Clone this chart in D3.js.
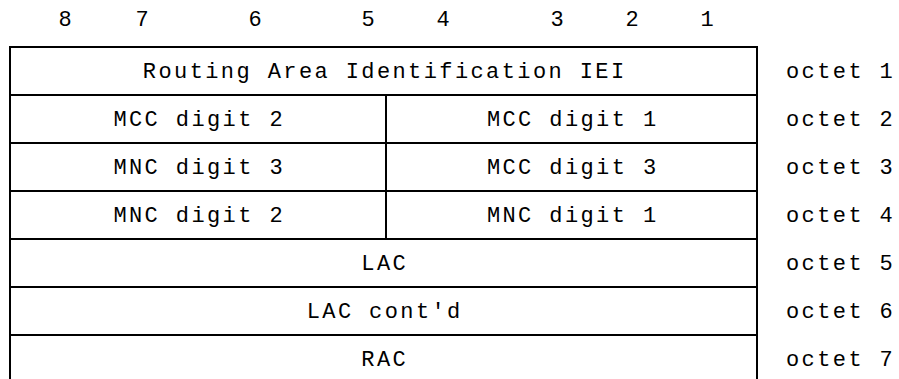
<!DOCTYPE html>
<html>
<head>
<meta charset="utf-8">
<script src="https://cdn.jsdelivr.net/npm/d3@7"></script>
<style>
  html, body { margin: 0; padding: 0; background: #fff; }
  svg { display: block; }
  text { font-family: "Liberation Mono", "Courier New", monospace; font-size: 22px; letter-spacing: 2.4px; fill: #000; }
</style>
</head>
<body>
<svg id="chart" width="899" height="379"></svg>
<script>
// ---- data ----
const bitLabels = ["8", "7", "6", "5", "4", "3", "2", "1"];
const octetLabels = ["octet 1", "octet 2", "octet 3", "octet 4", "octet 5", "octet 6", "octet 7"];
const rowCells = [
  ["Routing Area Identification IEI"],
  ["MCC digit 2", "MCC digit 1"],
  ["MNC digit 3", "MCC digit 3"],
  ["MNC digit 2", "MNC digit 1"],
  ["LAC"],
  ["LAC cont'd"],
  ["RAC"]
];

// ---- layout ----
const svg = d3.select("#chart");
const boxLeft = 10, boxRight = 757, boxTop = 47, rowH = 48, divX = 386;
const lsFix = 1.2; // half of letter-spacing, to keep centred text centred

const y = d3.scaleBand()
  .domain(octetLabels)
  .range([boxTop, boxTop + rowH * octetLabels.length])
  .padding(0);

const bitX = d3.scaleOrdinal()
  .domain(bitLabels)
  .range([65, 142, 255, 368, 443, 557, 632, 707]);

// header bit numbers
svg.append("g").selectAll("text")
  .data(bitLabels)
  .join("text")
  .attr("x", d => bitX(d) + lsFix)
  .attr("y", 20)
  .attr("text-anchor", "middle")
  .attr("dominant-baseline", "central")
  .text(d => d);

// cells
const cells = [];
rowCells.forEach((row, i) => {
  const oct = octetLabels[i];
  if (row.length === 1) {
    cells.push({ oct, x0: boxLeft, x1: boxRight, label: row[0] });
  } else {
    cells.push({ oct, x0: boxLeft, x1: divX, label: row[0] });
    cells.push({ oct, x0: divX, x1: boxRight, label: row[1] });
  }
});

const g = svg.append("g");
g.selectAll("rect")
  .data(cells)
  .join("rect")
  .attr("x", d => d.x0)
  .attr("y", d => y(d.oct))
  .attr("width", d => d.x1 - d.x0)
  .attr("height", y.bandwidth())
  .attr("fill", "none")
  .attr("stroke", "#000")
  .attr("stroke-width", 2);

g.selectAll("text")
  .data(cells)
  .join("text")
  .attr("x", d => (d.x0 + d.x1) / 2 + lsFix)
  .attr("y", d => y(d.oct) + y.bandwidth() / 2 + 1)
  .attr("text-anchor", "middle")
  .attr("dominant-baseline", "central")
  .text(d => d.label);

// octet labels
svg.append("g").selectAll("text")
  .data(octetLabels)
  .join("text")
  .attr("x", 786)
  .attr("y", d => y(d) + y.bandwidth() / 2 + 1)
  .attr("dominant-baseline", "central")
  .text(d => d);
</script>
</body>
</html>
